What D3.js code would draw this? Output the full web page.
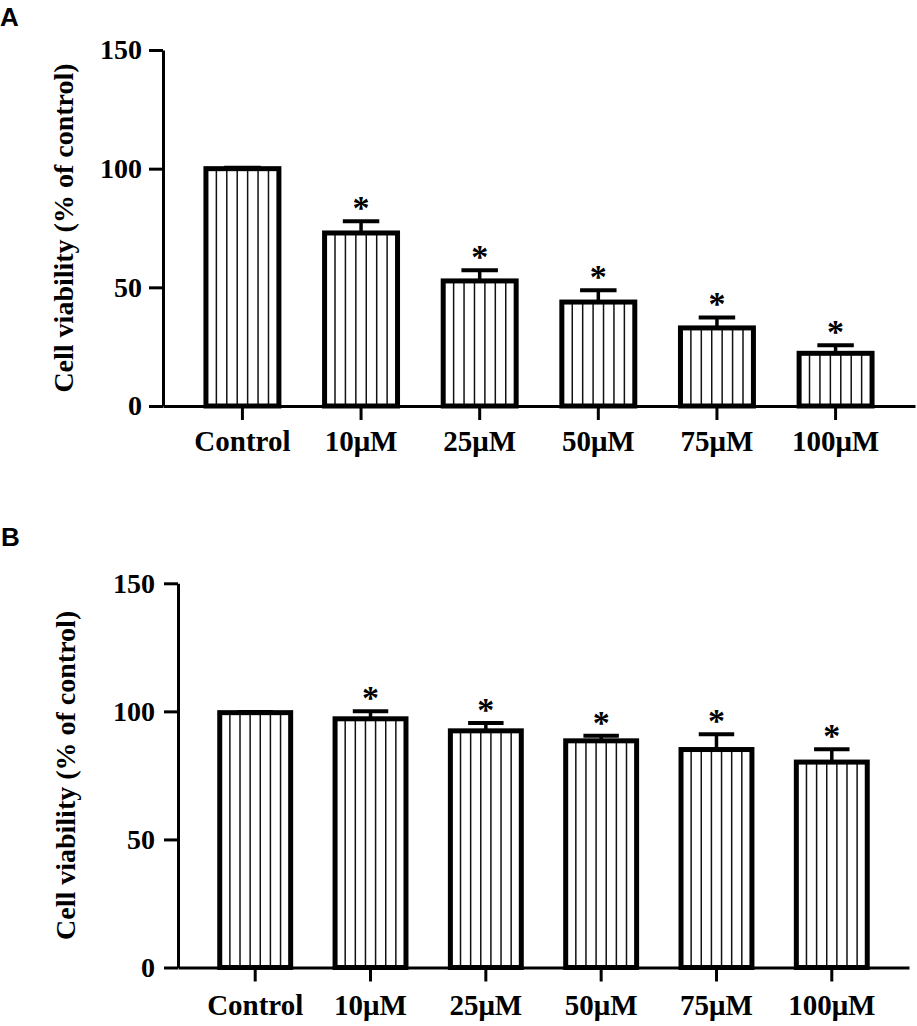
<!DOCTYPE html>
<html>
<head>
<meta charset="utf-8">
<script src="https://cdn.jsdelivr.net/npm/d3@7"></script>
<style>
  body { margin: 0; background: #fff; }
  svg { display: block; }
</style>
</head>
<body>
<svg id="chart" width="917" height="1026"></svg>
<script>
const categories = ["Control", "10\u03bcM", "25\u03bcM", "50\u03bcM", "75\u03bcM", "100\u03bcM"];
const yTicks = [0, 50, 100, 150];
const valuesA = [100, 72.9, 52.7, 43.8, 32.9, 22.2];
const errorsA = [0.4, 4.9, 4.5, 5.0, 4.4, 3.4];
const starsA = [false, true, true, true, true, true];
const valuesB = [99.5, 97.1, 92.4, 88.5, 85.1, 80.2];
const errorsB = [0.3, 2.9, 3.1, 2.0, 6.0, 5.0];
const starsB = [false, true, true, true, true, true];
const yTitle = "Cell viability (% of control)";

const svg = d3.select("#chart");
svg.append("rect").attr("width", 917).attr("height", 1026).attr("fill", "#fff");

const serif = "'Liberation Serif', 'Times New Roman', serif";

function panel(cfg) {
  const g = svg.append("g");
  const x = d3.scaleBand().domain(categories)
    .range([cfg.x0, cfg.x1]).paddingInner(0.385).paddingOuter(0.362);
  const y = d3.scaleLinear().domain([0, 150]).range([cfg.yBottom, cfg.yTop]);

  const bw = x.bandwidth();
  const bars = g.append("g");
  categories.forEach((c, i) => {
    const left = x(c), top = y(cfg.values[i]), bottom = y(0);
    for (let k = 1; k <= 6; k++) {
      bars.append("line")
        .attr("x1", left + k * bw / 7).attr("x2", left + k * bw / 7)
        .attr("y1", top).attr("y2", bottom)
        .attr("stroke", "#111").attr("stroke-width", 1.5);
    }
    bars.append("rect")
      .attr("x", left).attr("y", top)
      .attr("width", bw).attr("height", bottom - top)
      .attr("fill", "none").attr("stroke", "#000").attr("stroke-width", 5);
    const cx = left + bw / 2;
    const eTop = y(cfg.values[i] + cfg.errors[i]);
    bars.append("line").attr("x1", cx).attr("x2", cx)
      .attr("y1", top).attr("y2", eTop)
      .attr("stroke", "#000").attr("stroke-width", 3.5);
    bars.append("line").attr("x1", cx - bw * 0.25).attr("x2", cx + bw * 0.25)
      .attr("y1", eTop).attr("y2", eTop)
      .attr("stroke", "#000").attr("stroke-width", 4);
    if (cfg.stars[i]) {
      bars.append("text").attr("x", cx).attr("y", eTop - 2)
        .attr("text-anchor", "middle")
        .attr("font-family", serif).attr("font-weight", "bold")
        .attr("font-size", 34).text("*");
    }
  });

  const ya = g.append("g").attr("transform", `translate(${cfg.x0},0)`)
    .call(d3.axisLeft(y).tickValues(yTicks).tickSize(14).tickSizeOuter(0).tickPadding(cfg.yPad));
  ya.select(".domain").attr("stroke-width", 3);
  ya.selectAll(".tick line").attr("stroke-width", 3);
  ya.selectAll(".tick text").attr("font-family", serif).attr("font-weight", "bold")
    .attr("font-size", 28).attr("fill", "#000");

  const xa = g.append("g").attr("transform", `translate(0,${cfg.yBottom})`)
    .call(d3.axisBottom(x).tickSize(14).tickSizeOuter(0).tickPadding(cfg.xPad));
  xa.select(".domain").attr("stroke-width", 3);
  xa.selectAll(".tick line").attr("stroke-width", 3);
  xa.selectAll(".tick text").attr("font-family", serif).attr("font-weight", "bold")
    .attr("font-size", 29).attr("fill", "#000");

  g.append("text")
    .attr("transform", `translate(${cfg.titleX},${(cfg.yTop + cfg.yBottom) / 2}) rotate(-90)`)
    .attr("text-anchor", "middle")
    .attr("font-family", serif).attr("font-weight", "bold")
    .attr("font-size", 28).text(yTitle);

  g.append("text").attr("x", cfg.labelX).attr("y", cfg.labelY)
    .attr("font-family", "'Liberation Sans', Arial, sans-serif").attr("font-weight", "bold")
    .attr("font-size", 26).text(cfg.label);
}

panel({ label: "A", labelX: 0, labelY: 26, x0: 163, x1: 915, yTop: 50, yBottom: 406,
        values: valuesA, errors: errorsA, stars: starsA, yPad: 7, xPad: 10, titleX: 73 });
panel({ label: "B", labelX: 1, labelY: 546, x0: 178, x1: 909, yTop: 583.3, yBottom: 967.5,
        values: valuesB, errors: errorsB, stars: starsB, yPad: 9, xPad: 13, titleX: 75 });
</script>
</body>
</html>
